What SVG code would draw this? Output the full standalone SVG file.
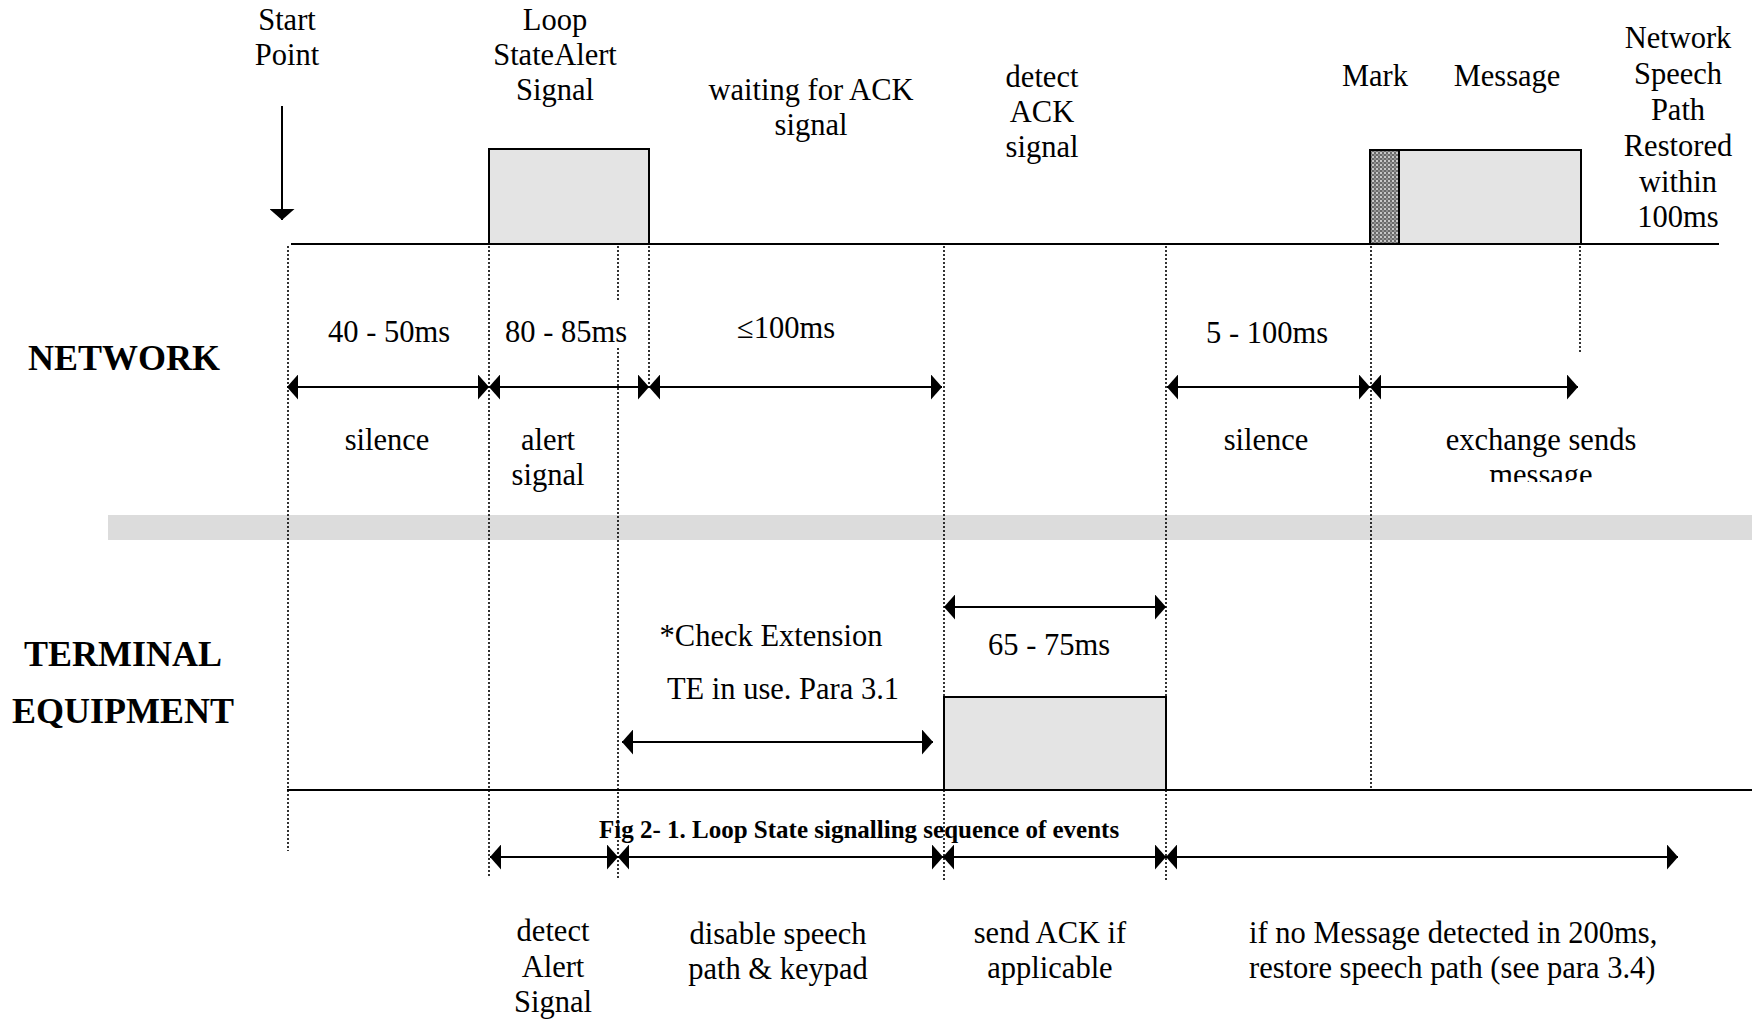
<svg xmlns="http://www.w3.org/2000/svg" width="1752" height="1021" viewBox="0 0 1752 1021">
<defs>
<style>
text{font-family:"Liberation Serif","Times New Roman",serif;font-size:30.5px;fill:#000;text-anchor:middle}
.b{font-weight:bold;font-size:36px}
.cap{font-weight:bold;font-size:25px;text-anchor:start}
.st{text-anchor:start}
.dot{stroke:#000;stroke-width:1.6;stroke-dasharray:2 2;fill:none}
.base{stroke:#000;stroke-width:2.2;fill:none}
.box{fill:#e4e4e4;stroke:#000;stroke-width:2}
.arr{stroke:#000;stroke-width:2;fill:none;marker-end:url(#ah);marker-start:url(#ah)}
.arr1{stroke:#000;stroke-width:2;fill:none;marker-end:url(#ah)}
</style>
<marker id="ah" viewBox="0 0 11 25" refX="11" refY="12.5" markerWidth="11" markerHeight="25" markerUnits="userSpaceOnUse" orient="auto-start-reverse">
<path d="M0,0 L11,12.5 L0,25 z" fill="#000"/>
</marker>
<pattern id="hatch" width="4" height="4" patternUnits="userSpaceOnUse">
<rect width="4" height="4" fill="#6a6a6a"/>
<circle cx="1" cy="1" r="1" fill="#e8e8e8"/>
<circle cx="3" cy="3" r="0.8" fill="#c8c8c8"/>
</pattern>
<clipPath id="clipMsg"><rect x="1300" y="400" width="452" height="82"/></clipPath>
</defs>

<rect id="band" x="108" y="515" width="1644" height="25" fill="#dcdcdc"/>

<g id="guides">
<line class="dot" x1="288" y1="246" x2="288" y2="851"/>
<line class="dot" x1="489" y1="246" x2="489" y2="878"/>
<line class="dot" x1="618" y1="246" x2="618" y2="300"/>
<line class="dot" x1="618" y1="348" x2="618" y2="878"/>
<line class="dot" x1="649" y1="246" x2="649" y2="387"/>
<line class="dot" x1="944" y1="246" x2="944" y2="880"/>
<line class="dot" x1="1166" y1="246" x2="1166" y2="880"/>
<line class="dot" x1="1371" y1="246" x2="1371" y2="790"/>
<line class="dot" x1="1580" y1="246" x2="1580" y2="354"/>
</g>

<g id="network-line">
<line class="base" x1="291" y1="244" x2="1719" y2="244"/>
</g>
<g id="terminal-line">
<line class="base" x1="287" y1="790" x2="1752" y2="790"/>
</g>

<g id="alert-box"><rect class="box" x="489" y="149" width="160" height="95"/></g>
<g id="mark-box"><rect x="1370" y="150" width="29" height="94" fill="url(#hatch)" stroke="#000" stroke-width="2"/></g>
<g id="message-box"><rect class="box" x="1399" y="150" width="182" height="94"/></g>
<g id="ack-box"><rect class="box" x="944" y="697" width="222" height="93"/></g>

<g id="connectors">
<line class="arr1" x1="282" y1="106" x2="282" y2="220"/>
<line class="arr" x1="287" y1="387" x2="489" y2="387"/>
<line class="arr" x1="489" y1="387" x2="649" y2="387"/>
<line class="arr" x1="649" y1="387" x2="942" y2="387"/>
<line class="arr" x1="1167" y1="387" x2="1370" y2="387"/>
<line class="arr" x1="1370" y1="387" x2="1578" y2="387"/>
<line class="arr" x1="944" y1="607" x2="1166" y2="607"/>
<line class="arr" x1="622" y1="742" x2="933" y2="742"/>
<line class="arr" x1="490" y1="857" x2="618" y2="857"/>
<line class="arr" x1="618" y1="857" x2="943" y2="857"/>
<line class="arr" x1="943" y1="857" x2="1166" y2="857"/>
<line class="arr" x1="1166" y1="857" x2="1678" y2="857"/>
</g>

<g id="labels-top">
<text x="287" y="30">Start</text>
<text x="287" y="65">Point</text>
<text x="555" y="30">Loop</text>
<text x="555" y="65">StateAlert</text>
<text x="555" y="100">Signal</text>
<text x="811" y="100">waiting for ACK</text>
<text x="811" y="135">signal</text>
<text x="1042" y="87">detect</text>
<text x="1042" y="122">ACK</text>
<text x="1042" y="157">signal</text>
<text x="1375" y="86">Mark</text>
<text x="1507" y="86">Message</text>
<text x="1678" y="48">Network</text>
<text x="1678" y="84">Speech</text>
<text x="1678" y="120">Path</text>
<text x="1678" y="156">Restored</text>
<text x="1678" y="192">within</text>
<text x="1678" y="227">100ms</text>
</g>

<g id="labels-network">
<text class="b" x="124" y="370">NETWORK</text>
<text x="389" y="342">40 - 50ms</text>
<text x="566" y="342">80 - 85ms</text>
<text x="786" y="338">≤100ms</text>
<text x="1267" y="343">5 - 100ms</text>
<text x="387" y="450">silence</text>
<text x="548" y="450">alert</text>
<text x="548" y="485">signal</text>
<text x="1266" y="450">silence</text>
<text x="1541" y="450">exchange sends</text>
<text x="1541" y="485" clip-path="url(#clipMsg)">message</text>
</g>

<g id="labels-terminal">
<text class="b" x="123" y="666">TERMINAL</text>
<text class="b" x="123" y="723">EQUIPMENT</text>
<text x="771" y="646">*Check Extension</text>
<text x="783" y="699">TE in use. Para 3.1</text>
<text x="1049" y="655">65 - 75ms</text>
<text class="cap" x="599" y="838">Fig 2- 1. Loop State signalling sequence of events</text>
<text x="553" y="941">detect</text>
<text x="553" y="977">Alert</text>
<text x="553" y="1012">Signal</text>
<text x="778" y="944">disable speech</text>
<text x="778" y="979">path &amp; keypad</text>
<text x="1050" y="943">send ACK if</text>
<text x="1050" y="978">applicable</text>
<text class="st" x="1249" y="943">if no Message detected in 200ms,</text>
<text class="st" x="1249" y="978">restore speech path (see para 3.4)</text>
</g>
</svg>
